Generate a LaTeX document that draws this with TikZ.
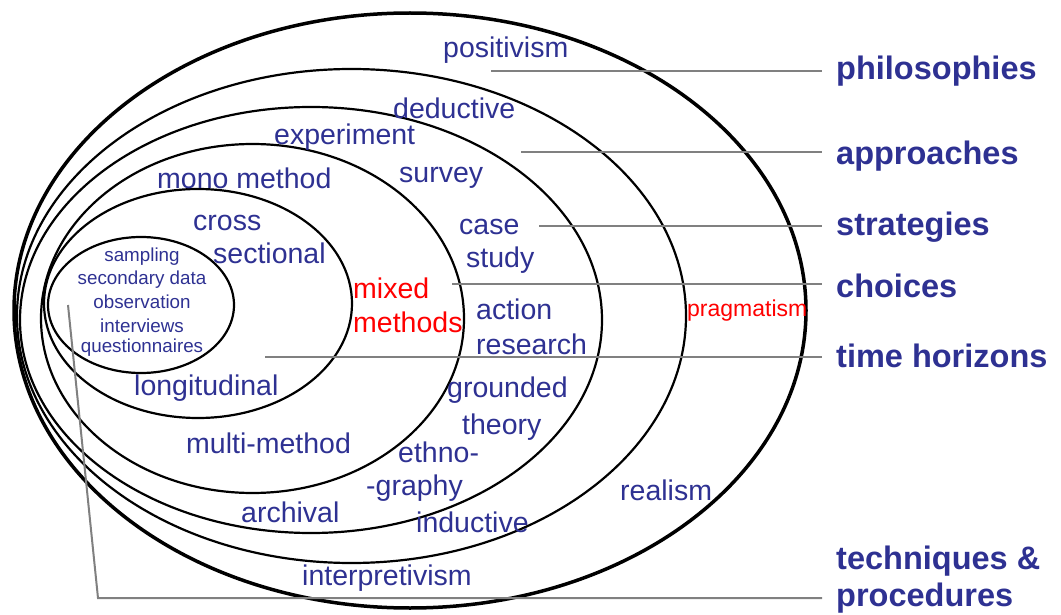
\documentclass[tikz,border=0pt]{standalone}
\usepackage{fontspec}
\setmainfont{Liberation Sans}
\definecolor{lblue}{RGB}{46,49,146}
\definecolor{lgray}{RGB}{128,128,128}
\begin{document}
\begin{tikzpicture}[x=1pt,y=-1pt,
  ring/.style={line width=2.2pt},
  outerring/.style={line width=3.5pt},
  lab/.style={text=lblue, inner sep=0pt, font=\fontsize{28.5}{34}\selectfont, anchor=west},
  redlab/.style={lab, text=red},
  smalllab/.style={text=lblue, inner sep=0pt, font=\fontsize{18.8}{22}\selectfont},
  head/.style={text=lblue, inner sep=0pt, font=\fontsize{32.5}{38}\selectfont\bfseries, anchor=west},
  gline/.style={draw=lgray, line width=2pt, shorten >=14pt}]
\useasboundingbox (0,0) rectangle (1061,615);

% rings
\draw[outerring] (410,310.5) ellipse [x radius=396pt, y radius=297.5pt];
\draw[ring] (351.5,316) ellipse [x radius=334.5pt, y radius=247pt];
\draw[ring] (311,320) ellipse [x radius=291pt, y radius=213pt];
\draw[ring] (252.5,318.5) ellipse [x radius=211.5pt, y radius=174.5pt];
\draw[ring] (198,303.5) ellipse [x radius=154pt, y radius=114.5pt];
\draw[ring] (141,305) ellipse [x radius=93pt, y radius=68pt];

% headings
\node[head] (phil) at (836,71) {philosophies};
\node[head] (appr) at (836,156) {approaches};
\node[head] (strat) at (836,227) {strategies};
\node[head] (choi) at (836,286) {choices};
\node[head] (time) at (836,356) {time horizons};
\node[head] (tech) at (836,561) {techniques \&};
\node[head] (proc) at (836,598.5) {procedures};

% leader lines
\coordinate (s1) at (491,71);
\coordinate (s2) at (521,152);
\coordinate (s3) at (539,226);
\coordinate (s4) at (452,284);
\coordinate (s5) at (265,357);
\coordinate (s6) at (68,305);
\coordinate (c6) at (98,598);
\draw[gline] (s1) -- (s1 -| phil.west);
\draw[gline] (s2) -- (s2 -| appr.west);
\draw[gline] (s3) -- (s3 -| strat.west);
\draw[gline] (s4) -- (s4 -| choi.west);
\draw[gline] (s5) -- (s5 -| time.west);
\draw[gline] (s6) -- (c6) -- (c6 -| proc.west);

% ring labels
\node[lab] (t1) at (443,50) {positivism};
\node[lab] (t2) at (393,108) {deductive};
\node[lab] (t3) at (274,137) {experiment};
\node[lab] (t4) at (157,178) {mono method};
\node[lab] (t5) at (399,178) {survey};
\node[lab] (t6) at (193,223) {cross};
\node[lab] (t7) at (213,253) {sectional};
\node[lab] (t8) at (459,227) {case};
\node[lab] (t9) at (466,260) {study};
\node[redlab] (t10) at (353,288) {mixed};
\node[redlab] (t11) at (353,322) {methods};
\node[lab] (t12) at (476,309) {action};
\node[lab] (t13) at (476,344) {research};
\node[redlab, font=\fontsize{23}{27}\selectfont] (t14) at (687,311) {pragmatism};
\node[lab] (t15) at (447,390) {grounded};
\node[lab] (t16) at (462,427) {theory};
\node[lab] (t17) at (398,452) {ethno-};
\node[lab] (t18) at (366,488) {-graphy};
\node[lab] (t19) at (416,522) {inductive};
\node[lab] (t20) at (241,512) {archival};
\node[lab] (t21) at (302,578) {interpretivism};
\node[lab] (t22) at (186,443) {multi-method};
\node[lab] (t23) at (134,388) {longitudinal};
\node[lab] (t24) at (620,490) {realism};

% innermost list
\node[smalllab] (i1) at (142,257) {sampling};
\node[smalllab] (i2) at (142,280) {secondary data};
\node[smalllab] (i3) at (142,302) {observation};
\node[smalllab] (i4) at (142,326) {interviews};
\node[smalllab] (i5) at (142,348) {questionnaires};
\end{tikzpicture}
\end{document}
